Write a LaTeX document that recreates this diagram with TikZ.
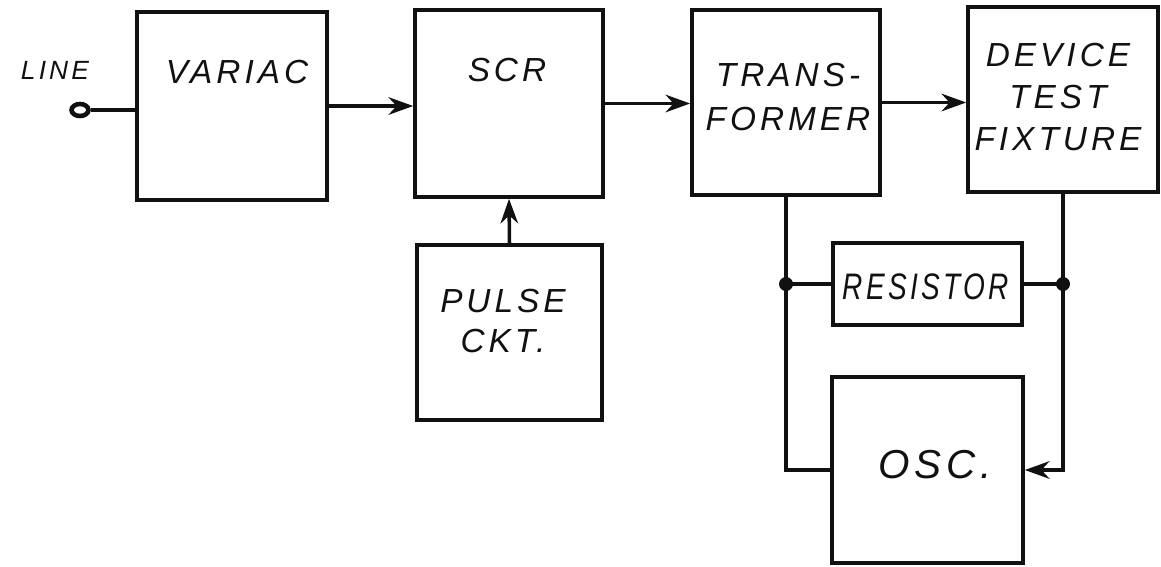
\documentclass[tikz,border=0pt]{standalone}
\usepackage{fontspec}
\usepackage{tikz}
\usetikzlibrary{arrows.meta,calc,shapes.geometric}
\newfontfamily\handfont[LetterSpace=12]{Liberation Sans}
\definecolor{inkblack}{HTML}{111111}
\tikzset{
  every node/.append style={font=\handfont\itshape\fontsize{19}{25}\selectfont},
  blockbox/.style={draw=inkblack,line width=2.1pt,inner sep=0pt},
  wire/.style={inkblack,line width=2pt},
  feed/.style={wire,-{Stealth[length=14pt,width=10pt]}},
  blocktext/.style={text=inkblack,align=center,inner sep=0pt}
}

\begin{document}
\begin{tikzpicture}[x=0.02cm,y=-0.02cm]
  \useasboundingbox (0,0) rectangle (1161,566);
  \node[blockbox,minimum width=3.8cm,minimum height=3.76cm] (variac) at (232,106) {};
  \node[blockbox,minimum width=3.76cm,minimum height=3.74cm] (scr) at (509,103.5) {};
  \node[blockbox,minimum width=3.76cm,minimum height=3.7cm] (trans) at (786,102.5) {};
  \node[blockbox,minimum width=3.8cm,minimum height=3.7cm] (dev) at (1063,99.5) {};
  \node[blockbox,minimum width=3.7cm,minimum height=3.5cm] (pulse) at (509.5,332.5) {};
  \node[blockbox,minimum width=3.78cm,minimum height=1.64cm] (res) at (927.5,284) {};
  \node[blockbox,minimum width=3.82cm,minimum height=3.72cm] (osc) at (927.5,470) {};
  \node[draw=inkblack,line width=2.6pt,ellipse,minimum width=0.34cm,minimum height=0.24cm,inner sep=0pt] (line) at (80,110) {};

  \node[blocktext,font=\handfont\itshape\fontsize{15}{18}\selectfont] (linetxt) at (55,70) {LINE};
  \node[blocktext] (variactxt) at (237,72) {VARIAC};
  \node[blocktext] (scrtxt) at (507,70) {SCR};
  \node[blocktext] (transtxt) at (788,97) {TRANS-\\FORMER};
  \node[blocktext] (devtxt) at (1058,97) {DEVICE\\[-1pt]TEST\\[-1pt]FIXTURE};
  \node[blocktext] (pulsetxt) at (503,321) {PULSE\\[-2pt]CKT.};
  \node[blocktext,font=\handfont\itshape\fontsize{21}{25}\selectfont,xscale=0.76] (restxt) at (926,287) {RESISTOR};
  \node[blocktext,font=\handfont\itshape\fontsize{23}{28}\selectfont] (osctxt) at (935,465) {OSC.};

  \draw[wire] (line.east) -- (line.east -| variac.west);
  \draw[feed] (variac.east) -- (variac.east -| scr.west);
  \draw[feed] (scr.east) -- (scr.east -| trans.west);
  \draw[feed] (trans.east) -- (trans.east -| dev.west);
  \draw[feed] (pulse.north) -- (scr.south);

  \coordinate (jl) at (res.west -| trans.south);
  \coordinate (jr) at (res.east -| dev.south);
  \draw[wire] (trans.south) -- (trans.south |- osc.west) -- (osc.west);
  \draw[feed] (dev.south) -- (dev.south |- osc.east) -- (osc.east);
  \draw[wire] (jl) -- (res.west);
  \draw[wire] (res.east) -- (jr);
  \fill[inkblack] (jl) circle (0.14cm) (jr) circle (0.14cm);
\end{tikzpicture}
\end{document}
